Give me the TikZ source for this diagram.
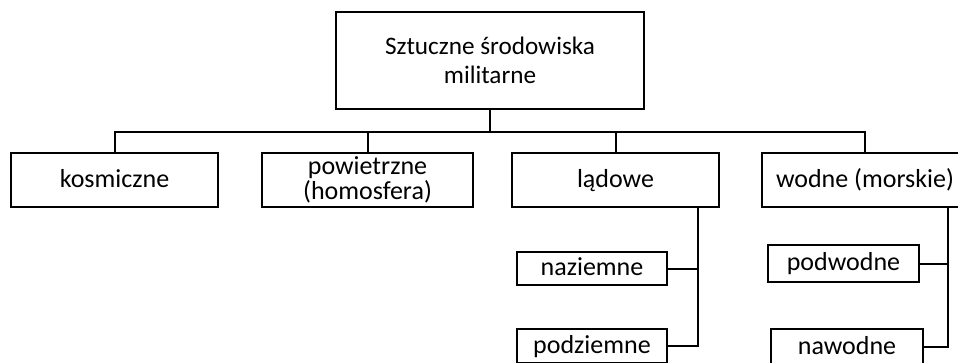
\documentclass[tikz,border=0pt]{standalone}
\usepackage{fontspec}
\setmainfont{Carlito}
\begin{document}
\begin{tikzpicture}[x=1pt,y=-1pt,
  box/.style={draw,line width=2pt,inner sep=0pt,align=center,
    font=\fontsize{26}{28}\selectfont},
  sbox/.style={box,text height=18pt,text depth=4pt},
  conn/.style={line width=2pt}]
\useasboundingbox (0,0) rectangle (958,362);
\clip (0,0) rectangle (958,362);
\node[box,minimum width=308pt,minimum height=97pt,font=\fontsize{25.2}{28.5}\selectfont] (top) at (490,60.5) {Sztuczne środowiska\\militarne};
\node[sbox,minimum width=207pt,minimum height=54pt] (kos) at (114.5,180) {kosmiczne};
\node[box,minimum width=211pt,minimum height=54pt] (pow) at (367.5,180) {\raisebox{-4pt}{\shortstack{powietrzne\\[-0.5pt](homosfera)}}};
\node[sbox,minimum width=207pt,minimum height=54pt] (lad) at (615.5,180) {lądowe};
\node[sbox,minimum width=206pt,minimum height=54pt] (wod) at (865,180) {wodne (morskie)};
\node[sbox,minimum width=150pt,minimum height=33pt] (naz) at (592,268.5) {naziemne};
\node[sbox,minimum width=150pt,minimum height=34pt] (pdz) at (592,346) {podziemne};
\node[sbox,minimum width=151pt,minimum height=37pt] (pwd) at (843.5,263.5) {podwodne};
\node[sbox,minimum width=152pt,minimum height=36pt] (nwd) at (847,347) {nawodne};
\coordinate (bus) at (490,132);
\coordinate (lv) at (698,207);
\coordinate (wv) at (948,207);
\draw[conn,line width=2.6pt] (top.south) -- (bus);
\draw[conn] (kos.north) |- (bus) -| (wod.north);
\draw[conn] (pow.north) -- (pow.north |- bus);
\draw[conn] (lad.north) -- (lad.north |- bus);
\draw[conn] (lv) |- (pdz.east);
\draw[conn] (naz.east) -- (naz.east -| lv);
\draw[conn] (wv) |- (nwd.east);
\draw[conn] (pwd.east) -- (pwd.east -| wv);
\end{tikzpicture}
\end{document}
